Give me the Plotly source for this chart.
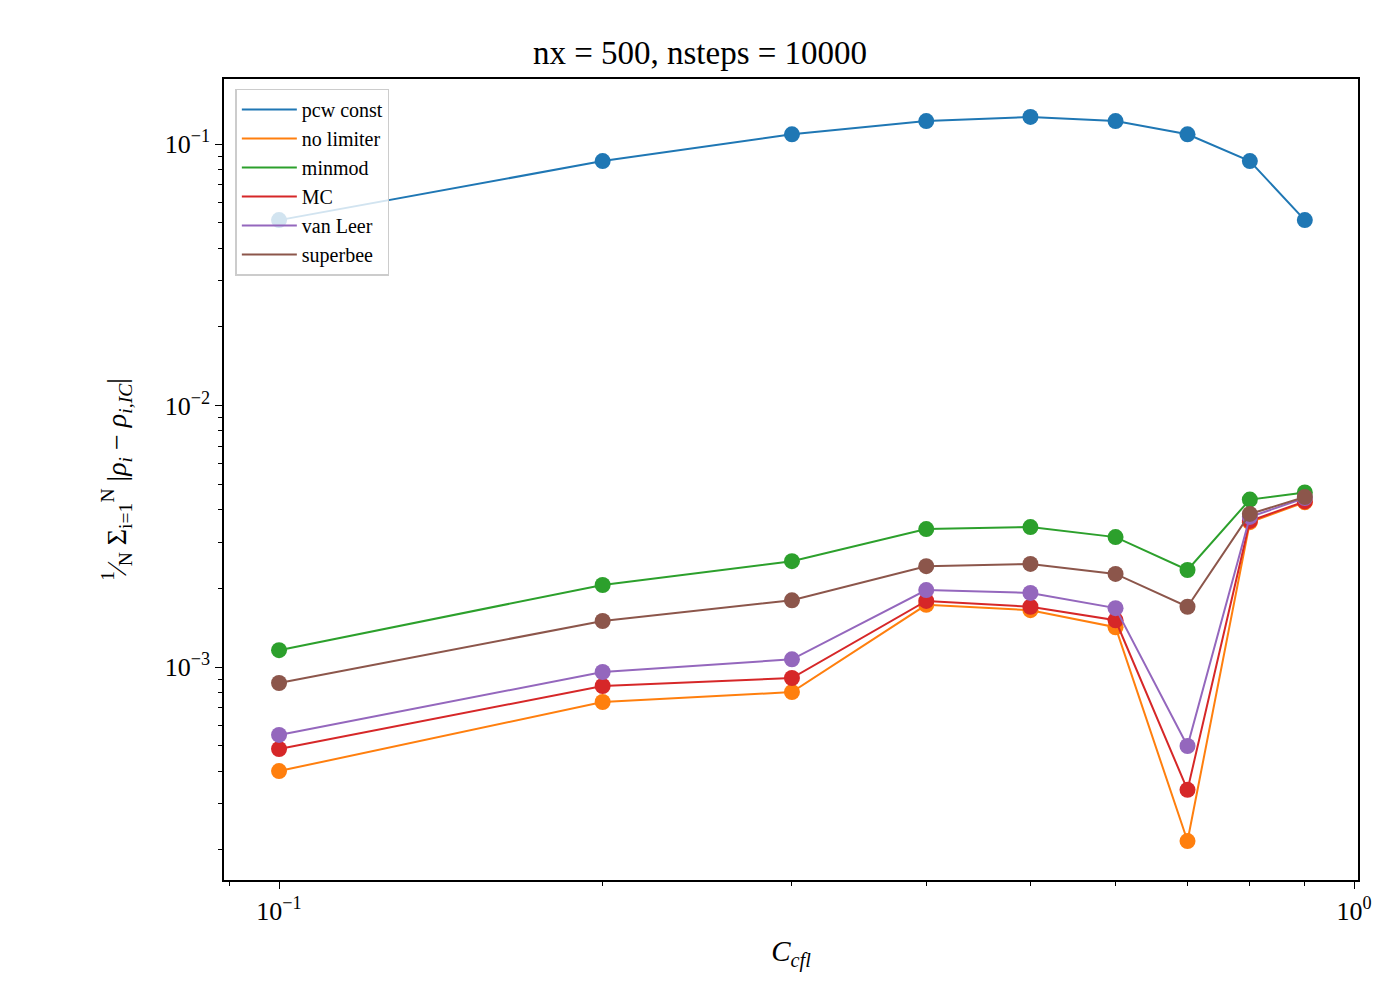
import plotly.graph_objects as go

cfl = [0.1, 0.2, 0.3, 0.4, 0.5, 0.6, 0.7, 0.8, 0.9]
pcw_const = [0.0512, 0.0861, 0.109, 0.1225, 0.127, 0.1225, 0.109, 0.0861, 0.0512]
no_limiter = [4.0e-4, 7.35e-4, 8.02e-4, 1.73e-3, 1.65e-3, 1.42e-3, 2.16e-4, 3.58e-3, 4.27e-3]
minmod = [1.16e-3, 2.06e-3, 2.54e-3, 3.37e-3, 3.43e-3, 3.14e-3, 2.35e-3, 4.37e-3, 4.65e-3]
mc = [4.86e-4, 8.46e-4, 9.08e-4, 1.79e-3, 1.70e-3, 1.51e-3, 3.39e-4, 3.62e-3, 4.30e-3]
van_leer = [5.5e-4, 9.57e-4, 1.07e-3, 1.97e-3, 1.92e-3, 1.68e-3, 4.99e-4, 3.75e-3, 4.43e-3]
superbee = [8.69e-4, 1.50e-3, 1.80e-3, 2.43e-3, 2.48e-3, 2.27e-3, 1.70e-3, 3.85e-3, 4.47e-3]

series_names = ["pcw const", "no limiter", "minmod", "MC", "van Leer", "superbee"]
series_values = [pcw_const, no_limiter, minmod, mc, van_leer, superbee]
colors = ["#1f77b4", "#ff7f0e", "#2ca02c", "#d62728", "#9467bd", "#8c564b"]

x_major = [0.1, 1.0]
x_major_text = ["10<sup>−1</sup>", "10<sup>0</sup>"]
x_minor = [0.09, 0.2, 0.3, 0.4, 0.5, 0.6, 0.7, 0.8, 0.9]
y_major = [1e-3, 1e-2, 1e-1]
y_major_text = ["10<sup>−3</sup>", "10<sup>−2</sup>", "10<sup>−1</sup>"]
y_minor = [k * 10.0 ** e for e in (-4, -3, -2, -1) for k in range(2, 10)]

FONT = "Liberation Serif"

fig = go.Figure()
for name, vals, col in zip(series_names, series_values, colors):
    fig.add_trace(go.Scatter(
        x=cfl, y=vals, mode="lines+markers", name=name, showlegend=False,
        line=dict(color=col, width=2),
        marker=dict(color=col, size=16, line=dict(width=0)),
    ))
for name, col in zip(series_names, colors):
    fig.add_trace(go.Scatter(
        x=[None], y=[None], mode="lines", name=name,
        line=dict(color=col, width=2),
    ))

axis_common = dict(
    type="log", showgrid=False, zeroline=False, showline=True,
    linecolor="black", linewidth=1.5, mirror=True,
    ticks="outside", ticklen=7, tickwidth=1.2, tickcolor="black",
    tickfont=dict(family=FONT, size=26, color="black"),
)

fig.update_xaxes(
    **axis_common,
    range=[-1.0512, 0.0037],
    tickmode="array", tickvals=x_major, ticktext=x_major_text,
    minor=dict(tickmode="array", tickvals=x_minor, ticks="outside",
               ticklen=4, tickwidth=1, tickcolor="black"),
    title=dict(text="<i>C</i><sub><i>cfl</i></sub>",
               font=dict(family=FONT, size=29, color="black"), standoff=16),
)
fig.update_yaxes(
    **axis_common,
    range=[-3.8145, -0.751],
    tickmode="array", tickvals=y_major, ticktext=y_major_text,
    minor=dict(tickmode="array", tickvals=y_minor, ticks="outside",
               ticklen=4, tickwidth=1, tickcolor="black"),
    title=dict(text="<sup>1</sup>⁄<sub>N</sub> Σ<sub>i=1</sub><sup>N</sup> |<i>ρ</i><sub><i>i</i></sub> − <i>ρ</i><sub><i>i,IC</i></sub>|",
               font=dict(family=FONT, size=28, color="black"), standoff=30),
)

fig.update_layout(
    width=1384, height=984,
    paper_bgcolor="white", plot_bgcolor="white",
    margin=dict(l=216, r=34, t=71, b=112),
    title=dict(text="nx = 500, nsteps = 10000", x=0.5, xanchor="center",
               y=0.955, yanchor="middle",
               font=dict(family=FONT, size=33, color="black")),
    legend=dict(
        x=0.01, y=0.988, xanchor="left", yanchor="top",
        bgcolor="rgba(255,255,255,0.8)", bordercolor="#cccccc", borderwidth=1.5,
        font=dict(family=FONT, size=20, color="black"),
        tracegroupgap=0, itemwidth=55,
    ),
    showlegend=True,
)

fig.write_html("out.html")
